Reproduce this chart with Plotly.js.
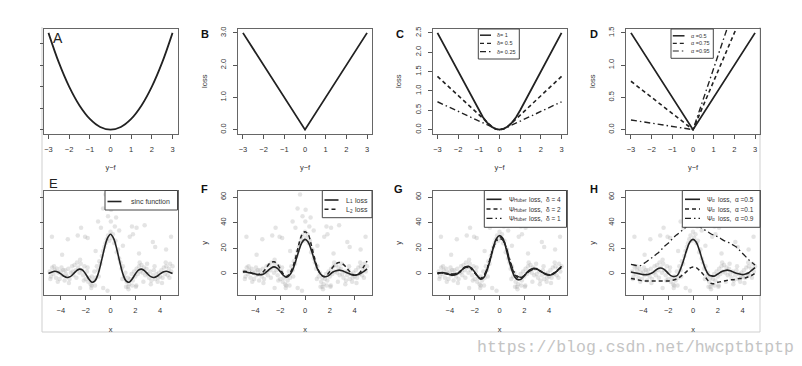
<!DOCTYPE html>
<html><head><meta charset="utf-8">
<script src="https://cdn.plot.ly/plotly-3.0.1.min.js"></script>
<style>html,body{margin:0;padding:0;background:#fff;}#chart{width:802px;height:366px;}</style>
</head><body><div id="chart"></div>
<script>
// ---------------- Data ----------------
// Top row: loss functions of y-f
const lossX = [-3,-2.5,-2,-1.5,-1,-0.5,0,0.5,1,1.5,2,2.5,3];
const squaredLoss = [9,6.25,4,2.25,1,0.25,0,0.25,1,2.25,4,6.25,9];
const absX = [-3,0,3];
const absLoss = [3,0,3];
const huberX1 = [-3,-2,-1,-0.8,-0.6,-0.4,-0.2,0,0.2,0.4,0.6,0.8,1,2,3];
const huberLoss1 = [2.5,1.5,0.5,0.32,0.18,0.08,0.02,0,0.02,0.08,0.18,0.32,0.5,1.5,2.5];
const huberX05 = [-3,-0.5,-0.3,-0.15,0,0.15,0.3,0.5,3];
const huberLoss05 = [1.375,0.125,0.045,0.011,0,0.011,0.045,0.125,1.375];
const huberX025 = [-3,-0.25,-0.12,0,0.12,0.25,3];
const huberLoss025 = [0.72,0.031,0.007,0,0.007,0.031,0.72];
const quantX = [-3,0,3];
const quant050 = [1.5,0,1.5];
const quant075 = [0.75,0,2.25];
const quant095 = [0.15,0,2.85];
const topTicks = [-3,-2,-1,0,1,2,3];

// Bottom row: fitted curves over x
const curveX = [-5,-4.75,-4.5,-4.25,-4,-3.75,-3.5,-3.25,-3,-2.75,-2.5,-2.25,-2,-1.75,-1.5,-1.25,-1,-0.75,-0.5,-0.25,0,0.25,0.5,0.75,1,1.25,1.5,1.75,2,2.25,2.5,2.75,3,3.25,3.5,3.75,4,4.25,4.5,4.75,5];
const sincY   = [0.3,1.4,2.1,1.6,0,-1.8,-2.7,-2.1,0,2.5,3.8,3.0,0,-3.9,-6.4,-5.4,0,9.2,19.6,27.8,31,27.8,19.6,9.2,0,-5.4,-6.4,-3.9,0,3.0,3.8,2.5,0,-2.1,-2.7,-1.8,0,1.6,2.1,1.4,0.3];
const l1Y     = [1.5,1.5,1,0.5,0,-0.5,-0.5,0.5,2.5,4.5,5.5,4.5,2,-1,-2.5,-1,3,10,18,24.5,27,25,19,11,4,0,-2,-2,-0.5,1.5,2.5,3,2.5,1.5,0.5,-0.5,-1,-0.5,0.5,2,4];
const l2Y     = [2,2,1.5,0.5,-0.5,-0.5,0.5,3,6.5,9,9.5,8,4,0,-2,0,5,13,23,30.5,33,31,23,13,5,0,-2,-1,2,5.5,8,9,8,6,3,0.5,-1,-0.5,2,6,10];
const huber4Y = [0,1,1,0.5,-0.5,-1,-0.5,1,3.5,5.5,6,4.5,1.5,-2,-4,-2.5,3,11,20.5,27.5,30,28,21,11,3,-2.5,-4.5,-4,-1.5,1.5,3.5,4.5,4,2.5,1,-0.5,-1,-0.5,1,3.5,6];
const huber2Y = [0.5,1,0.5,0,-0.5,-0.5,0,1.5,4,5.5,5.5,4,1,-2,-3.5,-1.5,4,12,21,27,29,27.5,22,13,5,-0.5,-3,-3,-1,1.5,3,4,3.5,2.5,1,0,-0.5,0,1.5,3.5,5.5];
const huber1Y = [1,1,0.5,0,0,0,0.5,1.5,3.5,5,5,3.5,1,-1.5,-3,-1,4.5,12,20,25.5,27.5,26.5,22,14,6,0.5,-2,-2.5,-1,1,2.5,3.5,3.5,2.5,1,0,-0.5,0,1.5,3,5];
const q50Y    = [1.5,1,0.5,0,-0.5,-0.5,0,1,3,4.5,4.5,3,0.5,-1.5,-2,-1,4,11,19,25,27,25,19,11,4,-0.5,-1.5,-1.5,0,1.5,2.5,3,2.5,1.5,0.5,0,-0.5,0,1,3,5];
const q10Y    = [-3.5,-4,-4.5,-5,-5.5,-5.5,-5.5,-5.5,-5.5,-5.5,-5.5,-5.5,-5.5,-5,-4.5,-3.5,-2,0,2,4.5,5.5,5,3,0.5,-2.5,-5.5,-7.5,-7.5,-6.5,-6,-5.5,-5,-4.5,-4.5,-4,-3.5,-3.5,-3,-2,-1,0.5];
const q90Y    = [7.5,7,6.5,6.5,8,9.5,11.5,13,15,17,19.5,22,24,26.5,29,31,33,35,37,38.5,39,38.5,37,35.5,34,32.5,31,30,29,27.5,26,25,24,22.5,21,18.5,16,13.5,11,9,7];

// Noisy sample points (grey)
const sampleX = [-4.9,-4.8,-4.7,-4.6,-4.5,-4.4,-4.3,-4.2,-4.1,-4.0,-3.9,-3.8,-3.7,-3.6,-3.5,-3.4,-3.3,-3.2,-3.1,-3.0,
 -2.9,-2.8,-2.7,-2.6,-2.5,-2.4,-2.3,-2.2,-2.1,-2.0,-1.9,-1.8,-1.7,-1.6,-1.5,-1.4,-1.3,-1.2,-1.1,-1.0,
 -0.9,-0.8,-0.7,-0.6,-0.5,-0.4,-0.3,-0.2,-0.1,0.0,0.1,0.2,0.3,0.4,0.5,0.6,0.7,0.8,0.9,1.0,
 1.1,1.2,1.3,1.4,1.5,1.6,1.7,1.8,1.9,2.0,2.1,2.2,2.3,2.4,2.5,2.6,2.7,2.8,2.9,3.0,
 3.1,3.2,3.3,3.4,3.5,3.6,3.7,3.8,3.9,4.0,4.1,4.2,4.3,4.4,4.5,4.6,4.7,4.8,4.9,5.0,
 -4.85,-4.55,-4.25,-3.95,-3.65,-3.35,-3.05,-2.75,-2.45,-2.15,-1.85,-1.55,-1.25,-0.95,0.95,1.25,1.45,1.75,2.05,2.35,
 2.65,2.95,3.25,3.55,3.85,4.15,4.45,4.75,
 -0.4,-0.6,0.05,0.45,0.03,-1.0,-0.77,0.35,1.73,2.1,2.75,-2.37,-2.64,-2.05,-4.72,-3.44,-1.84,1.55,1.81,3.41,
 3.6,4.88,4.48,-3.9,-1.2,1.0,2.3,-0.2,0.7,
 -0.59,-0.24,1.41,-1.52,-2.45,2.08];
const sampleY = [2,-2,5,0,3,-3,4,1,-4,2,-1,3,-5,0,-2,4,-4,1,6,-1,
 7,3,9,5,1,8,3,-1,6,-4,2,-6,-3,-8,-2,-5,2,-3,6,3,
 10,8,14,18,21,24,27,30,26,33,28,31,24,26,17,19,12,9,4,6,
 -2,1,-6,-3,-8,-4,0,-5,2,-2,4,0,6,2,7,1,5,-1,4,0,
 -3,2,-5,-1,3,-4,0,-6,1,-2,3,-3,5,0,6,-1,4,8,2,6,
 -4,6,-6,5,3,-7,2,-3,11,-5,5,-11,-9,-2,-4,-10,-12,-9,-10,9,
 -6,8,-8,6,-3,-7,9,-3,
 62,51,50,44,41,41,36,37,37,36,38,36,30,29,29,27,28,29,31,25,
 21,29,19,15,18,22,16,45,34,
 -11,-13,-10,-9,-11,-9];
const bottomTicks = [-4,-2,0,2,4];

// ---------------- Layout helpers ----------------
const W = 802, H = 366;
const FONT = 'Liberation Sans, Arial, sans-serif';
const INK = '#222';
const px = v => v / W;
const py = v => 1 - v / H;
const colL = [43.5, 238, 432.5, 626];
const colW = 134;
const rows = [[29, 133.5], [190.5, 295]];
const TFONT = {size: 7.5, color: '#333', family: FONT};

function xax(col, range, ticks, title, anchor) {
  return {
    anchor: anchor,
    domain: [px(colL[col]), px(colL[col] + colW)],
    range: range, tickvals: ticks, ticks: 'outside', ticklen: 4, tickwidth: 1, tickcolor: '#555',
    showline: true, linecolor: '#666', linewidth: 1, mirror: true, zeroline: false, showgrid: false,
    tickfont: TFONT, ticklabelstandoff: 4, fixedrange: true,
    title: {text: title, font: TFONT, standoff: 12}
  };
}
function yax(row, range, ticks, labels, title, anchor, fmt) {
  const o = {
    anchor: anchor,
    domain: [py(rows[row][1]), py(rows[row][0])],
    range: range, tickvals: ticks, ticks: 'outside', ticklen: labels ? 4 : 3, tickwidth: 1, tickcolor: '#555',
    showticklabels: labels, tickangle: -90,
    showline: true, linecolor: '#666', linewidth: 1, mirror: true, zeroline: false, showgrid: false,
    tickfont: TFONT, ticklabelstandoff: 4, fixedrange: true
  };
  if (fmt) o.tickformat = fmt;
  if (title) o.title = {text: title, font: TFONT, standoff: 10};
  return o;
}

const topRange = [-3.24, 3.24];
const botRange = [-5.4, 5.4];
const botY = [-16.4, 65.1];

const layout = {
  width: W, height: H, autosize: false, showlegend: false,
  margin: {l: 0, r: 0, t: 0, b: 0},
  paper_bgcolor: '#fff', plot_bgcolor: '#fff',
  font: {family: FONT, color: '#222'},
  xaxis:  xax(0, topRange, topTicks, 'y−f', 'y'),
  yaxis:  yax(0, [-0.36, 9.36], [0,2,4,6,8], false, null, 'x'),
  xaxis2: xax(1, topRange, topTicks, 'y−f', 'y2'),
  yaxis2: yax(0, [-0.12, 3.12], [0,1,2,3], true, 'loss', 'x2', '.1f'),
  xaxis3: xax(2, topRange, topTicks, 'y−f', 'y3'),
  yaxis3: yax(0, [-0.1, 2.6], [0,0.5,1,1.5,2,2.5], true, 'loss', 'x3', '.1f'),
  xaxis4: xax(3, topRange, topTicks, 'y−f', 'y4'),
  yaxis4: yax(0, [-0.06, 1.56], [0,0.5,1,1.5], true, 'loss', 'x4', '.1f'),
  xaxis5: xax(0, botRange, bottomTicks, 'x', 'y5'),
  yaxis5: yax(1, botY, [0,20,40,60], false, null, 'x5'),
  xaxis6: xax(1, botRange, bottomTicks, 'x', 'y6'),
  yaxis6: yax(1, botY, [0,20,40,60], true, 'y', 'x6'),
  xaxis7: xax(2, botRange, bottomTicks, 'x', 'y7'),
  yaxis7: yax(1, botY, [0,20,40,60], true, 'y', 'x7'),
  xaxis8: xax(3, botRange, bottomTicks, 'x', 'y8'),
  yaxis8: yax(1, botY, [0,20,40,60], true, 'y', 'x8'),
  shapes: [], annotations: []
};

// ---------------- Traces ----------------
const traces = [];
function line(x, y, n, dash, w, shape) {
  const s = n === 1 ? '' : String(n);
  traces.push({x: x, y: y, xaxis: 'x' + s, yaxis: 'y' + s,
    type: 'scatter', mode: 'lines', hoverinfo: 'skip',
    line: {color: INK, width: w || 1.8, dash: dash || 'solid', shape: shape || 'linear'}});
}
function pts(n) {
  traces.push({x: sampleX, y: sampleY, xaxis: 'x' + n, yaxis: 'y' + n, type: 'scatter', mode: 'markers',
    hoverinfo: 'skip', marker: {size: 4.5, color: 'rgba(150,150,150,0.26)', line: {width: 0}}});
}
const DASH = '4px,3px';
const DOTDASH = '6px,3px,1.5px,3px';

line(lossX, squaredLoss, 1, 'solid', 1.8, 'spline');
line(absX, absLoss, 2, 'solid', 1.8);
line(huberX1, huberLoss1, 3, 'solid', 1.8);
line(huberX05, huberLoss05, 3, DASH, 1.6);
line(huberX025, huberLoss025, 3, DOTDASH, 1.4);
line(quantX, quant050, 4, 'solid', 1.8);
line(quantX, quant075, 4, DASH, 1.6);
line(quantX, quant095, 4, DOTDASH, 1.4);

[5,6,7,8].forEach(pts);
line(curveX, sincY, 5, 'solid', 1.6, 'spline');
line(curveX, l1Y, 6, 'solid', 1.6, 'spline');
line(curveX, l2Y, 6, DASH, 1.5, 'spline');
line(curveX, huber4Y, 7, 'solid', 1.6, 'spline');
line(curveX, huber2Y, 7, DASH, 1.5, 'spline');
line(curveX, huber1Y, 7, DOTDASH, 1.3, 'spline');
line(curveX, q50Y, 8, 'solid', 1.6, 'spline');
line(curveX, q10Y, 8, DASH, 1.5, 'spline');
line(curveX, q90Y, 8, DOTDASH, 1.3, 'spline');

// ---------------- Annotations & legends ----------------
function ann(text, x, y, o) {
  layout.annotations.push(Object.assign({text: text, x: px(x), y: py(y), xref: 'paper', yref: 'paper',
    showarrow: false, xanchor: 'center', yanchor: 'middle', font: TFONT}, o || {}));
}
function box(x0, y0, x1, y1) {
  layout.shapes.push({type: 'rect', xref: 'paper', yref: 'paper', x0: px(x0), x1: px(x1), y0: py(y1), y1: py(y0),
    fillcolor: '#fff', line: {color: '#444', width: 1}, layer: 'above'});
}
function seg(x0, x1, y, dash, w) {
  layout.shapes.push({type: 'line', xref: 'paper', yref: 'paper', x0: px(x0), x1: px(x1), y0: py(y), y1: py(y),
    line: {color: INK, width: w || 1.5, dash: dash}, layer: 'above'});
}
const L = o => Object.assign({xanchor: 'left'}, o);

// Panel letters
ann('A', 58, 38, {font: {size: 14, color: '#222', family: FONT}});
ann('<b>B</b>', 205, 33.5, {font: {size: 11, color: '#111', family: FONT}});
ann('<b>C</b>', 399.5, 33.5, {font: {size: 11, color: '#111', family: FONT}});
ann('<b>D</b>', 593.5, 33.5, {font: {size: 11, color: '#111', family: FONT}});
ann('E', 53, 183, {font: {size: 13, color: '#222', family: FONT}});
ann('<b>F</b>', 204.5, 188.5, {font: {size: 11, color: '#111', family: FONT}});
ann('<b>G</b>', 398.5, 188.5, {font: {size: 11, color: '#111', family: FONT}});
ann('<b>H</b>', 593.5, 188.5, {font: {size: 11, color: '#111', family: FONT}});

const LF55 = {size: 5.5, color: '#333', family: FONT};
const LF7 = {size: 7, color: '#333', family: FONT};
const LF65 = {size: 6.5, color: '#333', family: FONT};
const SUB = {size: 4.6, color: '#333', family: FONT};
// Legend C
box(478.3, 29, 519.3, 59);
seg(480, 491, 35.2, 'solid', 1.5); seg(480, 491, 43.3, DASH, 1.3); seg(480, 491, 51.6, DOTDASH, 1.2);
ann('δ= 1', 495, 35.2, L({font: LF55}));
ann('δ= 0.5', 495, 43.3, L({font: LF55}));
ann('δ= 0.25', 495, 51.6, L({font: LF55}));
// Legend D
box(671, 29, 713.3, 58.3);
seg(672.8, 684.5, 35.8, 'solid', 1.5); seg(672.8, 684.5, 43.3, DASH, 1.3); seg(672.8, 684.5, 51, DOTDASH, 1.2);
ann('α =0.5', 688.5, 35.8, L({font: LF55}));
ann('α =0.75', 688.5, 43.3, L({font: LF55}));
ann('α =0.95', 688.5, 51, L({font: LF55}));
// Legend E
box(105, 190.5, 177.5, 210);
seg(107.5, 121.5, 201.5, 'solid', 1.6);
ann('sinc function', 128.5, 201.5, L({font: LF7}));
// Legend F  (L with small subscript digit)
box(322.3, 190.5, 372, 217.7);
seg(324.5, 338.5, 200, 'solid', 1.6); seg(324.5, 338.5, 209.3, DASH, 1.5);
[['1', 200], ['2', 209.3]].forEach(r => {
  ann('L', 343.5, r[1], L({font: LF7}));
  ann(r[0], 347.6, r[1] + 1.8, L({font: SUB}));
  ann('loss', 352.5, r[1], L({font: LF7}));
});
// Legend G
box(484.3, 190.5, 566.5, 227.3);
seg(486.5, 501.5, 199.3, 'solid', 1.6); seg(486.5, 501.5, 209, DASH, 1.5); seg(486.5, 501.5, 218.3, DOTDASH, 1.3);
[['δ = 4', 199.3], ['δ = 2', 209], ['δ = 1', 218.3]].forEach(r => {
  ann('Ψ', 506.5, r[1], L({font: LF65}));
  ann('Huber', 511.6, r[1] + 1.6, L({font: SUB}));
  ann('loss,  ' + r[0], 527, r[1], L({font: LF65}));
});
// Legend H
box(682.3, 190.5, 760, 227.3);
seg(685, 700, 199.3, 'solid', 1.6); seg(685, 700, 209, DASH, 1.5); seg(685, 700, 218.3, DOTDASH, 1.3);
[['α =0.5', 199.3], ['α =0.1', 209], ['α =0.9', 218.3]].forEach(r => {
  ann('Ψ', 705, r[1], L({font: LF65}));
  ann('α', 710.1, r[1] + 1.6, L({font: SUB}));
  ann('loss,  ' + r[0], 715.5, r[1], L({font: LF65}));
});

// Outer frame of the figure image (left, bottom, right)
[[42, 27, 42, 332], [42, 332, 760, 332], [760, 27, 760, 332]].forEach(s =>
  layout.shapes.push({type: 'line', xref: 'paper', yref: 'paper', x0: px(s[0]), y0: py(s[1]), x1: px(s[2]), y1: py(s[3]),
    line: {color: '#cfcfcf', width: 1}, layer: 'below'}));

// Watermark
ann('https://blog.csdn.net/hwcptbtptp', 796, 347, {xanchor: 'right',
  font: {size: 16.5, color: '#c4c4c4', family: 'Liberation Mono, DejaVu Sans Mono, monospace'}});

Plotly.newPlot('chart', traces, layout, {staticPlot: true, displayModeBar: false});
</script></body></html>
